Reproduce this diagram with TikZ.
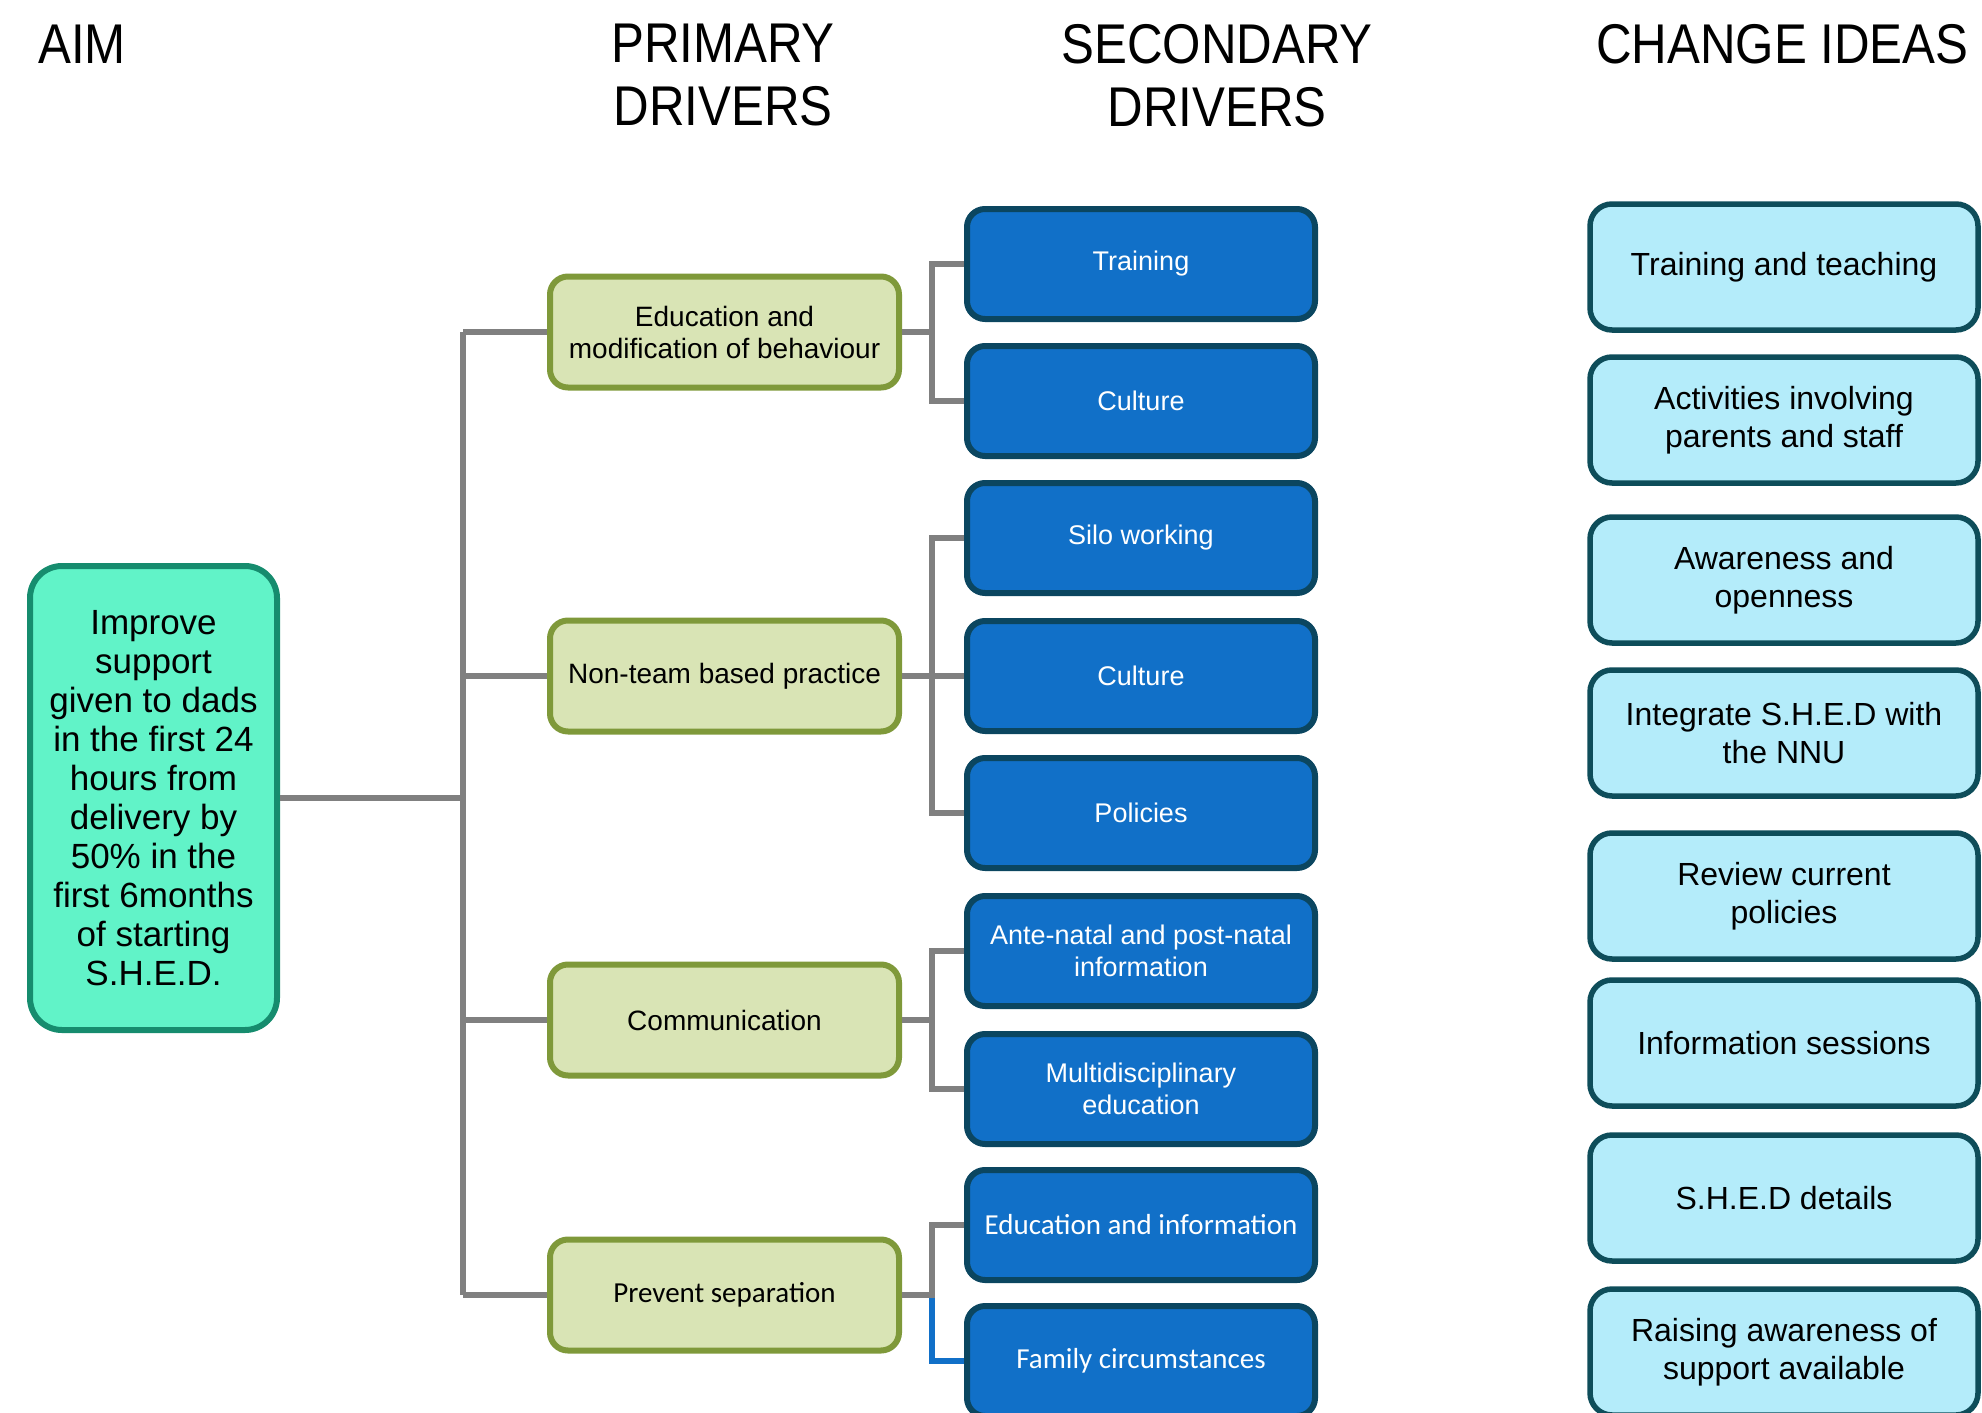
\documentclass[tikz,border=0pt]{standalone}
\usepackage{fontspec}
\setmainfont{Liberation Sans}
\newfontfamily\hdrfont[FakeStretch=0.88]{Liberation Sans}
\newfontfamily\calfont{Carlito}
\definecolor{aimfill}{RGB}{97,243,200}
\definecolor{aimborder}{RGB}{22,140,110}
\definecolor{prifill}{RGB}{217,228,181}
\definecolor{priborder}{RGB}{127,153,58}
\definecolor{secfill}{RGB}{17,112,200}
\definecolor{secborder}{RGB}{11,70,96}
\definecolor{chgfill}{RGB}{180,236,250}
\definecolor{chgborder}{RGB}{14,77,90}
\definecolor{conngray}{RGB}{128,128,128}
\begin{document}
\begin{tikzpicture}[x=1pt,y=-1pt,
  hdr/.style={inner sep=0pt, align=center, font=\hdrfont\fontsize{56}{63}\selectfont},
  aimbox/.style={draw=aimborder, fill=aimfill, line width=6pt, rounded corners=32pt,
    minimum width=247pt, minimum height=464pt, align=center, inner sep=0pt,
    font=\fontsize{35}{39}\selectfont},
  pribox/.style={draw=priborder, fill=prifill, line width=6pt, rounded corners=18pt,
    minimum width=349pt, minimum height=111pt, align=center, inner sep=0pt,
    font=\fontsize{28}{32}\selectfont},
  secbox/.style={draw=secborder, fill=secfill, line width=6pt, rounded corners=18pt,
    minimum width=348pt, minimum height=110pt, align=center, inner sep=0pt,
    text=white, font=\fontsize{27}{32}\selectfont},
  chgbox/.style={draw=chgborder, fill=chgfill, line width=5.5pt, rounded corners=22pt,
    minimum width=388pt, minimum height=126pt, align=center, inner sep=0pt,
    font=\fontsize{32}{38}\selectfont},
  cal/.style={font=\calfont\fontsize{29}{34}\selectfont},
  conn/.style={draw=conngray, line width=6pt, line join=miter},
  bconn/.style={draw=secfill, line width=6pt, line join=miter}
]
\useasboundingbox (0,0) rectangle (1982,1413);

% headers
\node[hdr, anchor=west] (haim) at (38,44) {AIM};
\node[hdr] (hpri) at (723,75.5) {PRIMARY\\DRIVERS};
\node[hdr] (hsec) at (1217,75.5) {SECONDARY\\DRIVERS};
\node[hdr, anchor=west] (hchg) at (1596,44) {CHANGE IDEAS};

% aim
\node[aimbox] (aim) at (153.5,798) {Improve\\support\\given to dads\\in the first 24\\hours from\\delivery by\\50\% in the\\first 6months\\of starting\\S.H.E.D.};

% primary drivers
\node[pribox] (p1) at (724.5,332) {Education and\\modification of behaviour};
\node[pribox] (p2) at (724.5,676) {Non-team based practice};
\node[pribox] (p3) at (724.5,1020) {Communication};
\node[pribox, cal] (p4) at (724.5,1295) {Prevent separation};

% secondary drivers
\node[secbox] (s1) at (1141,264) {Training};
\node[secbox] (s2) at (1141,401) {Culture};
\node[secbox] (s3) at (1141,538) {Silo working};
\node[secbox] (s4) at (1141,676) {Culture};
\node[secbox] (s5) at (1141,813) {Policies};
\node[secbox] (s6) at (1141,951) {Ante-natal and post-natal\\information};
\node[secbox] (s7) at (1141,1089) {Multidisciplinary\\education};
\node[secbox, cal] (s8) at (1141,1225) {Education and information};
\node[secbox, cal] (s9) at (1141,1361) {Family circumstances};

% change ideas
\node[chgbox] (c1) at (1784,267) {Training and teaching};
\node[chgbox] (c2) at (1784,420) {Activities involving\\parents and staff};
\node[chgbox] (c3) at (1784,580) {Awareness and\\openness};
\node[chgbox] (c4) at (1784,733) {Integrate S.H.E.D with\\the NNU};
\node[chgbox] (c5) at (1784,896) {Review current\\policies};
\node[chgbox] (c6) at (1784,1043) {Information sessions};
\node[chgbox] (c7) at (1784,1198) {S.H.E.D details};
\node[chgbox] (c8) at (1784,1352) {Raising awareness of\\support available};

% connectors
\coordinate (t0) at (463,796);
\coordinate (b0) at (932,796);
\draw[conn] (aim.east) -- (aim.east -| t0);
\draw[conn] (p1.west -| t0) -- (p4.west -| t0);
\draw[conn] (p1.west -| t0) -- (p1.west);
\draw[conn] (p2.west -| t0) -- (p2.west);
\draw[conn] (p3.west -| t0) -- (p3.west);
\draw[conn] (p4.west -| t0) -- (p4.west);

\draw[conn] (p1.east) -- (p1.east -| b0);
\draw[conn] (s1.west) -- (s1.west -| b0) -- (s2.west -| b0) -- (s2.west);

\draw[conn] (p2.east) -- (s4.west);
\draw[conn] (s3.west) -- (s3.west -| b0) -- (s5.west -| b0) -- (s5.west);

\draw[conn] (p3.east) -- (p3.east -| b0);
\draw[conn] (s6.west) -- (s6.west -| b0) -- (s7.west -| b0) -- (s7.west);

\draw[bconn] (p4.east -| b0) -- (s9.west -| b0) -- (s9.west);
\draw[conn] (p4.east) -- (p4.east -| b0) -- (s8.west -| b0) -- (s8.west);
\end{tikzpicture}
\end{document}
